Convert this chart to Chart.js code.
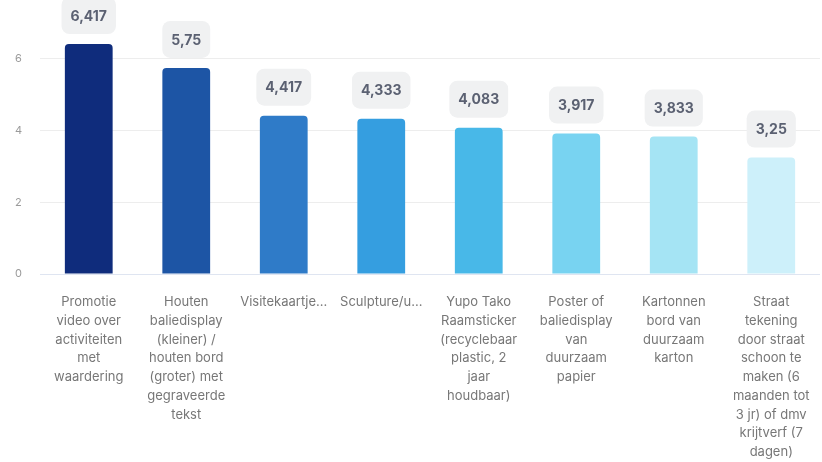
<!DOCTYPE html>
<html>
<head>
<meta charset="utf-8">
<script src="https://cdn.jsdelivr.net/npm/chart.js@4/dist/chart.umd.min.js"></script>
<style>
html,body{margin:0;padding:0;background:#fff;}
#wrap{width:822px;height:462px;position:relative;}
</style>
</head>
<body>
<div id="wrap"><canvas id="c" width="822" height="462"></canvas></div>
<script>
const categories = [
  ["Promotie","video over","activiteiten","met","waardering"],
  ["Houten","baliedisplay","(kleiner) /","houten bord","(groter) met","gegraveerde","tekst"],
  ["Visitekaartje..."],
  ["Sculpture/u..."],
  ["Yupo Tako","Raamsticker","(recyclebaar","plastic, 2","jaar","houdbaar)"],
  ["Poster of","baliedisplay","van","duurzaam","papier"],
  ["Kartonnen","bord van","duurzaam","karton"],
  ["Straat","tekening","door straat","schoon te","maken (6","maanden tot","3 jr) of dmv","krijtverf (7","dagen)"]
];
const values = [6.417, 5.75, 4.417, 4.333, 4.083, 3.917, 3.833, 3.25];
const barColors = ["#0f2c7c","#1d55a5","#2f7bc8","#359ee0","#48b8e8","#78d3f1","#a5e4f4","#cdf0fa"];
const yTicks = [0, 2, 4, 6];

const fmt = v => String(v).replace('.', ',');

const labelBoxes = {
  id: 'labelBoxes',
  afterDatasetsDraw(chart) {
    const ctx = chart.ctx;
    const meta = chart.getDatasetMeta(0);
    ctx.save();
    ctx.font = "bold 14px Inter";
    ctx.textAlign = "center";
    ctx.textBaseline = "middle";
    meta.data.forEach((bar, i) => {
      const txt = fmt(values[i]);
      const w = ctx.measureText(txt).width + 18;
      const h = 37;
      const bottom = bar.y - 10;
      const x = bar.x - w / 2;
      const y = bottom - h;
      ctx.fillStyle = "#f0f1f2";
      ctx.beginPath();
      ctx.roundRect(x, y, w, h, 8);
      ctx.fill();
      ctx.fillStyle = "#5b6172";
      ctx.fillText(txt, bar.x, y + h / 2 + 1);
    });
    ctx.restore();
  }
};

new Chart(document.getElementById('c'), {
  type: 'bar',
  data: {
    labels: categories,
    datasets: [{
      data: values,
      backgroundColor: barColors,
      borderRadius: {topLeft: 4, topRight: 4, bottomLeft: 0, bottomRight: 0},
      borderSkipped: 'bottom',
      barPercentage: 0.49,
      categoryPercentage: 1
    }]
  },
  options: {
    responsive: false,
    animation: false,
    devicePixelRatio: 1,
    layout: { padding: { top: 0, right: 2, bottom: 0, left: 15 } },
    plugins: { legend: { display: false }, tooltip: { enabled: false } },
    scales: {
      x: {
        afterFit(scale) { scale.height = 188; },
        grid: { display: false, drawTicks: true, tickLength: 19 },
        border: { display: false },
        ticks: {
          autoSkip: false, maxRotation: 0, minRotation: 0,
          padding: 0,
          color: "#777777",
          font: { family: "Inter", size: 13, lineHeight: 1.44 }
        }
      },
      y: {
        min: 0,
        max: 7.46,
        afterFit(scale) { scale.width = 25; },
        afterBuildTicks(scale) { scale.ticks = yTicks.map(v => ({ value: v })); },
        border: { display: false },
        grid: {
          drawTicks: false,
          lineWidth: 1,
          color: ctx => (ctx.tick && ctx.tick.value === 0) ? "#dfe5f1" : "#ededed"
        },
        ticks: {
          padding: 0,
          crossAlign: 'far',
          color: "#9a9a9a",
          font: { family: "Inter", size: 11 },
          callback: v => String(v)
        }
      }
    }
  },
  plugins: [labelBoxes]
});
</script>
</body>
</html>
